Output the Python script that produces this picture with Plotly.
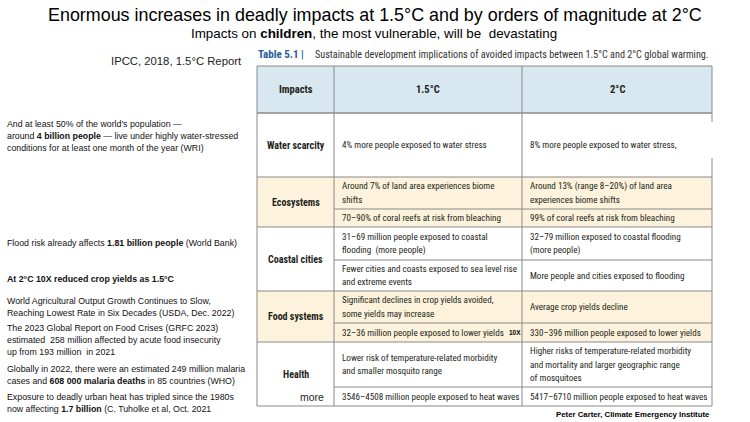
import plotly.graph_objects as go

# =============================================================================
# DATA
# =============================================================================

TITLE = "Enormous increases in deadly impacts at 1.5°C and by orders of magnitude at 2°C"
SUBTITLE = "Impacts on <b>children</b>, the most vulnerable, will be  devastating"
SOURCE = "IPCC, 2018, 1.5°C Report"
TABLE_NO = "Table 5.1 |"
TABLE_CAPTION = ("Sustainable development implications of avoided impacts "
                 "between 1.5°C and 2°C global warming.")
CREDIT = "Peter Carter, Climate Emergency Institute"

headers = ["Impacts", "1.5°C", "2°C"]
impacts = ["Water scarcity", "Ecosystems", "Coastal cities", "Food systems", "Health"]

# one entry per sub-row, lines split by "|"
impl_15 = [
    ["4% more people exposed to water stress"],
    ["Around 7% of land area experiences biome|shifts",
     "70–90% of coral reefs at risk from bleaching"],
    ["31–69 million people exposed to coastal|flooding  (more people)",
     "Fewer cities and coasts exposed to sea level rise|and extreme events"],
    ["Significant declines in crop yields avoided,|some yields may increase",
     "32–36 million people exposed to lower yields"],
    ["Lower risk of temperature-related morbidity|and smaller mosquito range",
     "3546–4508 million people exposed to heat waves"],
]
impl_20 = [
    ["8% more people exposed to water stress,"],
    ["Around 13% (range 8–20%) of land area|experiences biome shifts",
     "99% of coral reefs at risk from bleaching"],
    ["32–79 million exposed to coastal flooding|(more people)",
     "More people and cities exposed to flooding"],
    ["Average crop yields decline",
     "330–396 million people exposed to lower yields"],
    ["Higher risks of temperature-related morbidity|and mortality and larger geographic range|of mosquitoes",
     "5417–6710 million people exposed to heat waves"],
]

notes = [
    ["And at least 50% of the world's population —",
     "around <b>4 billion people</b> — live under highly water-stressed",
     "conditions for at least one month of the year (WRI)"],
    ["Flood risk already affects <b>1.81 billion people</b> (World Bank)"],
    ["<b>At 2°C 10X reduced crop yields as 1.5°C</b>"],
    ["World Agricultural Output Growth Continues to Slow,",
     "Reaching Lowest Rate in Six Decades (USDA, Dec. 2022)"],
    ["The 2023 Global Report on Food Crises (GRFC 2023)",
     "estimated  258 million affected by acute food insecurity",
     "up from 193 million  in 2021"],
    ["Globally in 2022, there were an estimated 249 million malaria",
     "cases and <b>608 000 malaria deaths</b> in 85 countries (WHO)"],
    ["Exposure to deadly urban heat has tripled since the 1980s",
     "now affecting <b>1.7 billion</b> (C. Tuholke et al, Oct. 2021"],
]

# =============================================================================
# LAYOUT (pixel grid of the slide)
# =============================================================================

W, H = 750, 422
COLS = [257, 334, 522, 712]
HEAD = [66, 113]
ROWS = [[113, 177], [177, 209, 227], [227, 260, 291], [291, 323, 342], [342, 387, 406]]
SHADED = [1, 3]
NOTE_Y = [124, 243, 279, 301, 328, 369, 397]

BLUE_FILL = "#d7e8f1"
BEIGE_FILL = "#fdf3dc"
GRID = "#8a8a8a"
INK = "#231f20"

TFONT = "Liberation Sans Narrow, Arial Narrow, Roboto Condensed, sans-serif"
SFONT = "Liberation Sans, Arial, sans-serif"

fig = go.Figure()
shapes = []
ann = []


def add_lines(x, yc, text, size, font, anchor="left", step=13.5, color=INK):
    lines = text.split("|")
    y0 = yc - step * (len(lines) - 1) / 2
    for k, ln in enumerate(lines):
        ann.append(dict(x=x, y=y0 + k * step, text=ln, xanchor=anchor, yanchor="middle",
                        showarrow=False, font=dict(family=font, size=size, color=color)))


def line(x0, y0, x1, y1, w=1, c=GRID):
    shapes.append(dict(type="line", x0=x0, y0=y0, x1=x1, y1=y1, xref="x", yref="y",
                       line=dict(color=c, width=w), layer="above"))


# cell fills
shapes.append(dict(type="rect", x0=COLS[0], x1=COLS[3], y0=HEAD[0], y1=HEAD[1],
                   xref="x", yref="y", fillcolor=BLUE_FILL, line=dict(width=0), layer="below"))
for i in SHADED:
    shapes.append(dict(type="rect", x0=COLS[0], x1=COLS[3], y0=ROWS[i][0], y1=ROWS[i][-1],
                       xref="x", yref="y", fillcolor=BEIGE_FILL, line=dict(width=0), layer="below"))

# grid
line(COLS[0], HEAD[0], COLS[3], HEAD[0])
line(COLS[0], HEAD[1], COLS[3], HEAD[1], w=1.5)
line(COLS[0], HEAD[0], COLS[0], ROWS[-1][-1])
line(COLS[1], HEAD[0], COLS[1], ROWS[-1][-1])
line(COLS[2], HEAD[0], COLS[2], ROWS[-1][-1])
line(COLS[3], HEAD[0], COLS[3], 122)
line(COLS[3], 158, COLS[3], ROWS[-1][-1])
for r in ROWS:
    line(COLS[0], r[-1], COLS[3], r[-1], w=1.2)
    for yy in r[1:-1]:
        line(COLS[1], yy, COLS[3], yy)

# header text
for j, h in enumerate(headers):
    ann.append(dict(x=(COLS[j] + COLS[j + 1]) / 2, y=sum(HEAD) / 2, text=f"<b>{h}</b>",
                    showarrow=False, xanchor="center", yanchor="middle",
                    font=dict(family=TFONT, size=10.5, color=INK)))

# body
for i, name in enumerate(impacts):
    r = ROWS[i]
    add_lines((COLS[0] + COLS[1]) / 2, (r[0] + r[-1]) / 2, f"<b>{name}</b>", 10, TFONT, "center")
    for k in range(len(impl_15[i])):
        yc = (r[k] + r[k + 1]) / 2
        add_lines(COLS[1] + 6, yc, impl_15[i][k], 9.1, TFONT)
        add_lines(COLS[2] + 6, yc, impl_20[i][k], 9.1, TFONT)

ann.append(dict(x=COLS[2] + 0.5, y=(ROWS[3][1] + ROWS[3][2]) / 2, text="<b>10X</b>", showarrow=False,
                xanchor="right", yanchor="middle", font=dict(family=SFONT, size=6.5, color="black")))
ann.append(dict(x=COLS[1] - 8, y=(ROWS[4][1] + ROWS[4][2]) / 2, text="more", showarrow=False,
                xanchor="right", yanchor="middle", font=dict(family=SFONT, size=10.5, color="#222")))

# titles
ann.append(dict(x=375, y=15, text=TITLE, showarrow=False, xanchor="center", yanchor="middle",
                font=dict(family=SFONT, size=17.9, color="black")))
ann.append(dict(x=374, y=33, text=SUBTITLE, showarrow=False, xanchor="center", yanchor="middle",
                font=dict(family=SFONT, size=13.4, color="black")))
ann.append(dict(x=109, y=61, text=SOURCE, showarrow=False, xanchor="left", yanchor="middle",
                font=dict(family=SFONT, size=11.3, color="#222")))
ann.append(dict(x=256, y=54, text=f"<b>{TABLE_NO}</b>", showarrow=False, xanchor="left",
                yanchor="middle", font=dict(family=TFONT, size=11, color="#1f5c99")))
ann.append(dict(x=313, y=54, text=TABLE_CAPTION, showarrow=False, xanchor="left",
                yanchor="middle", font=dict(family=TFONT, size=10.2, color="#333")))
ann.append(dict(x=712, y=414, text=f"<b>{CREDIT}</b>", showarrow=False, xanchor="right",
                yanchor="middle", font=dict(family=SFONT, size=7.8, color="black")))

# side notes
for y_first, block in zip(NOTE_Y, notes):
    for k, ln in enumerate(block):
        ann.append(dict(x=5, y=y_first + k * 11.8, text=ln, showarrow=False, xanchor="left",
                        yanchor="middle", font=dict(family=SFONT, size=8.8, color="#111")))

fig.update_layout(
    width=W, height=H,
    margin=dict(l=0, r=0, t=0, b=0),
    paper_bgcolor="white", plot_bgcolor="white",
    xaxis=dict(range=[0, W], visible=False, fixedrange=True),
    yaxis=dict(range=[H, 0], visible=False, fixedrange=True),
    shapes=shapes, annotations=ann, showlegend=False,
)

# page body has a default 8px margin; drop it so the slide sits at the corner
fig.write_html("out.html", config={"displayModeBar": False},
               post_script="document.body.style.margin='0px';")
